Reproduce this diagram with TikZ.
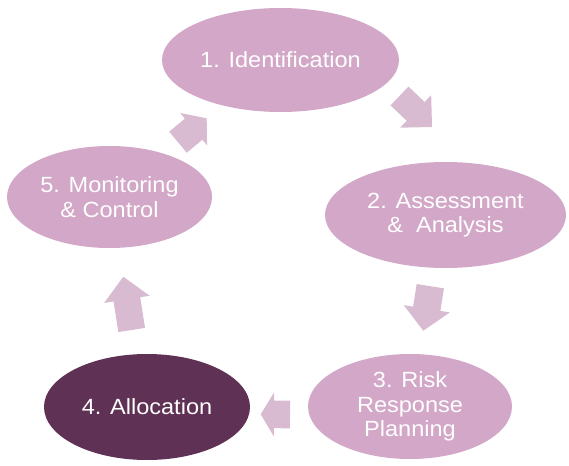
\documentclass[tikz,border=0pt]{standalone}
\usepackage{fontspec}
\setmainfont{Liberation Sans}[FakeStretch=1.07]
\usetikzlibrary{shapes.geometric,calc}
\definecolor{ellfill}{RGB}{210,167,199}
\definecolor{arrfill}{RGB}{216,187,208}
\definecolor{darkfill}{RGB}{95,49,84}
% block arrow: #1 tail centre, #2 tip, #3 half body width, #4 half head width, #5 head length
\newcommand\blockarr[5]{%
  \path ($(#2)!#5!(#1)$) coordinate (hb);
  \fill[arrfill] ($(#1)!#3!90:(#2)$) -- ($(hb)!#3!90:(#2)$) -- ($(hb)!#4!90:(#2)$) -- (#2)
     -- ($(hb)!#4!-90:(#2)$) -- ($(hb)!#3!-90:(#2)$) -- ($(#1)!#3!-90:(#2)$) -- cycle;
}
\begin{document}
\begin{tikzpicture}[x=1pt,y=-1pt,
  stage/.style={ellipse, fill=ellfill, draw=none, text=white, align=center,
    font=\fontsize{22}{24.5}\selectfont, inner sep=0pt}]
\useasboundingbox (0,0) rectangle (569,465);
\node[stage, minimum width=237pt, minimum height=104pt] (s1) at (280.5,60) {1. Identification};
\node[stage, minimum width=241pt, minimum height=106pt] (s2) at (445.5,215) {2. Assessment\\\&\ \ Analysis};
\node[stage, minimum width=204pt, minimum height=105pt] (s3) at (410,406.5) {3. Risk\\Response\\Planning};
\node[stage, fill=darkfill, minimum width=206pt, minimum height=106pt] (s4) at (147,407) {4. Allocation};
\node[stage, minimum width=205pt, minimum height=102pt] (s5) at (109.5,197) {5. Monitoring\\\& Control};
% arrows
\coordinate (t12) at (399.5,96);   \coordinate (p12) at (432,127);
\coordinate (t23) at (430.3,286.2); \coordinate (p23) at (423.3,330.7);
\coordinate (t34) at (290,414.5);  \coordinate (p34) at (260.7,414.3);
\coordinate (t45) at (131.7,330);  \coordinate (p45) at (123.3,276.7);
\coordinate (t51) at (178,142.2);  \coordinate (p51) at (206.7,118.3);
\blockarr{t12}{p12}{13pt}{22.5pt}{22.6pt}
\blockarr{t23}{p23}{13.8pt}{23.3pt}{22.2pt}
\blockarr{t34}{p34}{13.8pt}{22pt}{13.3pt}
\blockarr{t45}{p45}{13.5pt}{23pt}{22.9pt}
\blockarr{t51}{p51}{13.7pt}{21pt}{17pt}
\end{tikzpicture}
\end{document}
